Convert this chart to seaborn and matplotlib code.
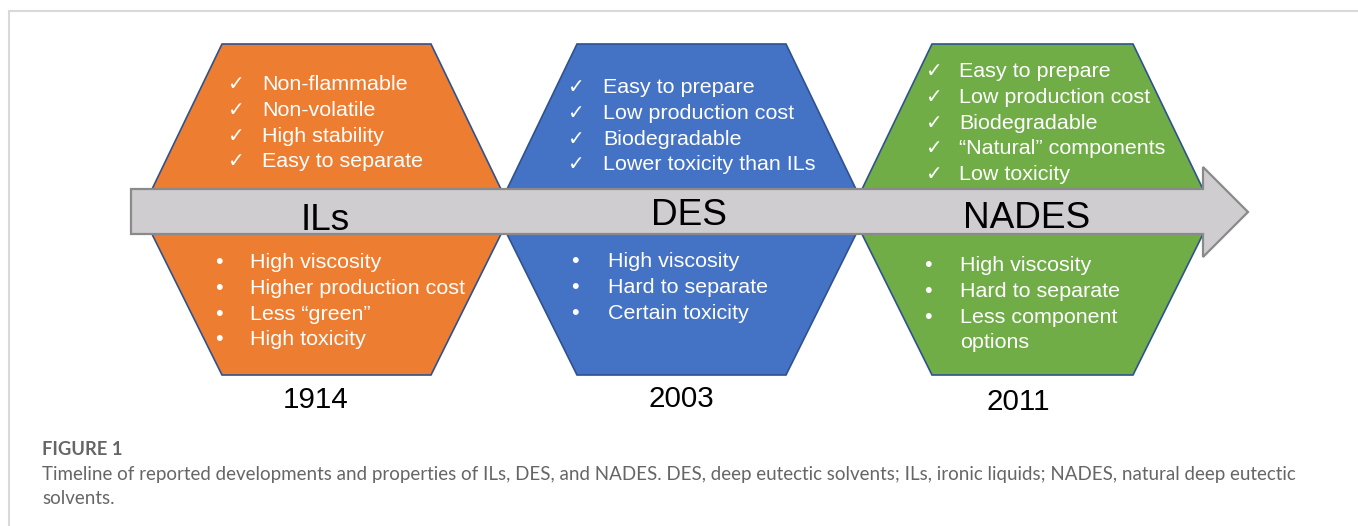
import matplotlib
matplotlib.use('Agg')
import matplotlib.pyplot as plt
import seaborn as sns
from matplotlib.patches import Polygon

sns.set_theme(style='white')
plt.rcParams['font.family'] = ['Liberation Sans', 'DejaVu Sans']

# ---- content ----
names = ['ILs', 'DES', 'NADES']
years = ['1914', '2003', '2011']
colors = ['#ED7D31', '#4472C4', '#70AD47']
pros = [
    ['Non-flammable', 'Non-volatile', 'High stability', 'Easy to separate'],
    ['Easy to prepare', 'Low production cost', 'Biodegradable', 'Lower toxicity than ILs'],
    ['Easy to prepare', 'Low production cost', 'Biodegradable', '\u201cNatural\u201d components', 'Low toxicity'],
]
cons = [
    ['High viscosity', 'Higher production cost', 'Less \u201cgreen\u201d', 'High toxicity'],
    ['High viscosity', 'Hard to separate', 'Certain toxicity'],
    ['High viscosity', 'Hard to separate', 'Less component', 'options'],
]
cons_marks = [[1, 1, 1, 1], [1, 1, 1], [1, 1, 1, 0]]
caption_title = 'FIGURE 1'
caption_lines = [
    'Timeline of reported developments and properties of ILs, DES, and NADES. DES, deep eutectic solvents; ILs, ironic liquids; NADES, natural deep eutectic',
    'solvents.',
]

# ---- layout (pixel units, y down) ----
W, H = 1358, 526
hex_cx = [326.5, 681.5, 1032.5]
hex_top_half = [104.5, 104.5, 100.5]
hex_spread = 81
y_top, y_mid, y_bot = 44, 212, 375
name_xy = [(325.5, 230), (689.5, 225), (1027, 228)]
pro_x = [(228, 262), (568, 603), (926, 959)]
pro_y0 = [90, 93, 77]
con_x = [(219, 250), (575, 608), (928, 960)]
con_y0 = [268, 267, 271]
line_step = 25.8
year_xy = [(316, 408), (681.5, 407), (1018, 410)]
PT = 72 / 100

fig = plt.figure(figsize=(W / 100, H / 100), dpi=100)
ax = fig.add_axes([0, 0, 1, 1])
ax.set_xlim(0, W)
ax.set_ylim(H, 0)
ax.axis('off')

# frame lines of the figure panel
ax.plot([9, W], [11, 11], color='#d9d9d9', lw=1.5)
ax.plot([9, 9], [11, H], color='#d9d9d9', lw=1.5)

for i in range(3):
    cx, t = hex_cx[i], hex_top_half[i]
    m = t + hex_spread
    pts = [(cx - t, y_top), (cx + t, y_top), (cx + m, y_mid),
           (cx + t, y_bot), (cx - t, y_bot), (cx - m, y_mid)]
    ax.add_patch(Polygon(pts, closed=True, facecolor=colors[i],
                         edgecolor='#2F528F', lw=1.2, zorder=2))

# timeline arrow
arrow = [(131, 189), (1203, 189), (1203, 167), (1248, 212),
         (1203, 257), (1203, 234), (131, 234)]
ax.add_patch(Polygon(arrow, closed=True, facecolor='#CFCDCF',
                     edgecolor='#8A8A8A', lw=1.6, zorder=3))

for i in range(3):
    ax.text(name_xy[i][0], name_xy[i][1], names[i], ha='center', va='baseline',
            fontsize=37 * PT, color='black', zorder=5)
    for j, s in enumerate(pros[i]):
        y = pro_y0[i] + j * line_step
        ax.text(pro_x[i][0], y, '\u2713', ha='left', va='baseline',
                fontsize=20 * PT, color='white', family=['DejaVu Sans'], zorder=5)
        ax.text(pro_x[i][1], y, s, ha='left', va='baseline',
                fontsize=21.5 * PT, color='white', zorder=5)
    for j, s in enumerate(cons[i]):
        y = con_y0[i] + j * line_step
        if cons_marks[i][j]:
            ax.text(con_x[i][0], y, '\u2022', ha='center', va='baseline',
                    fontsize=21.5 * PT, color='white', zorder=5)
        ax.text(con_x[i][1], y, s, ha='left', va='baseline',
                fontsize=21.5 * PT, color='white', zorder=5)
    ax.text(year_xy[i][0], year_xy[i][1], years[i], ha='center', va='baseline',
            fontsize=29.5 * PT, color='black', zorder=5)

# caption
ax.text(42, 455, caption_title, ha='left', va='baseline', fontsize=18.4 * PT,
        color='#666666', family=['Lato', 'DejaVu Sans'], fontweight='bold')
for k, line in enumerate(caption_lines):
    ax.text(42, 480 + k * 24, line, ha='left', va='baseline', fontsize=18.75 * PT,
            color='#666666', family=['Lato', 'DejaVu Sans'])

fig.savefig('out.png', dpi=100)
